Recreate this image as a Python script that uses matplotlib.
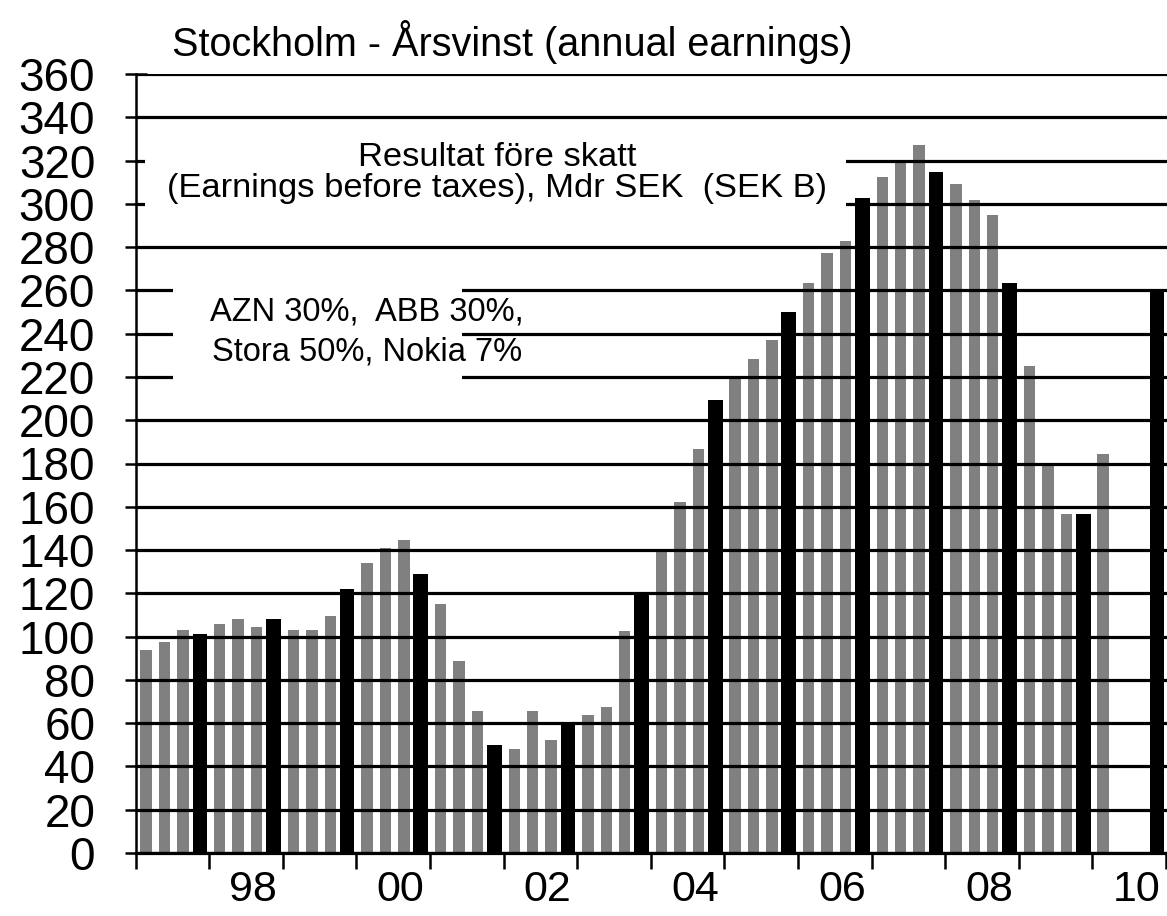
import numpy as np
import matplotlib
matplotlib.use("Agg")
import matplotlib.pyplot as plt
from matplotlib.patches import Rectangle

plt.rcParams["font.family"] = ["Liberation Sans", "DejaVu Sans"]

# rolling 4-quarter earnings, one row per year (last value = full year)
years = ["97", "98", "99", "00", "01", "02", "03", "04", "05", "06", "07", "08", "09", "10"]
q_1997 = [94, 97.5, 103, 101]
q_1998 = [106, 108, 104.5, 108]
q_1999 = [103, 103, 109.5, 122]
q_2000 = [134, 141, 144.5, 129]
q_2001 = [115, 88.5, 65.5, 50]
q_2002 = [48, 65.5, 52, 60.5]
q_2003 = [64, 67.5, 102.5, 119.5]
q_2004 = [139.5, 162, 186.5, 209.5]
q_2005 = [220, 228.5, 237, 250]
q_2006 = [263.5, 277.5, 283, 302.5]
q_2007 = [312.5, 320, 327, 314.5]
q_2008 = [309, 302, 295, 263.5]
q_2009 = [225, 180, 156.5, 156.5]
q_2010 = [184.5, np.nan, np.nan, 260.5]
shown_labels = ["98", "00", "02", "04", "06", "08", "10"]

values = np.array(q_1997 + q_1998 + q_1999 + q_2000 + q_2001 + q_2002 + q_2003
                  + q_2004 + q_2005 + q_2006 + q_2007 + q_2008 + q_2009 + q_2010)

W, H = 1167, 916
fig = plt.figure(figsize=(W / 100, H / 100), dpi=100)
ax = fig.add_axes([135.5 / W, 63 / H, (W - 135.5) / W, 779 / H])

n = len(values)
x = np.arange(n) + 0.5
year_end = (np.arange(n) % 4) == 3
ax.bar(x[~year_end] + 0.08, values[~year_end], width=0.62, color="#808080", zorder=1)
ax.bar(x[year_end], values[year_end], width=0.8, color="black", zorder=1)

ax.set_xlim(0, n + 0.05)
ax.set_ylim(0, 360)
ax.set_yticks(np.arange(0, 361, 20))
ax.yaxis.grid(True, color="black", lw=2.3)
ax.set_axisbelow(False)

for s in ["top", "right"]:
    ax.spines[s].set_visible(False)
ax.spines["left"].set_linewidth(1.8)
ax.spines["bottom"].set_linewidth(2.3)

ax.set_xticks(np.arange(0, n + 1, 4))
ax.set_xticklabels([])
label_pos = [4 * years.index(lab) + 2.4 for lab in shown_labels]
ax.set_xticks(label_pos, minor=True)
ax.set_xticklabels(shown_labels, minor=True)
ax.tick_params(axis="x", which="major", direction="out", length=11.5, width=1.8)
ax.tick_params(axis="x", which="minor", length=0, labelsize=31, pad=12)
ax.tick_params(axis="y", direction="inout", length=16, width=1.8, labelsize=33, pad=21)

# white boxes behind the notes
def box(x0, y0, x1, y1):
    fig.add_artist(Rectangle((x0 / W, 1 - y1 / H), (x1 - x0) / W, (y1 - y0) / H,
                             transform=fig.transFigure, facecolor="white",
                             edgecolor="none", zorder=1))

box(145, 130, 846, 235)
box(173, 266, 462, 400)

fig.text(497 / W, 1 - 172.5 / H,
         "Resultat före skatt\n(Earnings before taxes), Mdr SEK  (SEK B)",
         ha="center", va="center", fontsize=24.8, linespacing=1.0, zorder=3)
fig.text(367 / W, 1 - 332 / H, "AZN 30%,  ABB 30%,\nStora 50%, Nokia 7%",
         ha="center", va="center", fontsize=23.5, linespacing=1.35, zorder=3)
fig.text(512 / W, 1 - 42 / H, "Stockholm - Årsvinst (annual earnings)",
         ha="center", va="center", fontsize=28.5)

fig.savefig("out.png", dpi=100)
